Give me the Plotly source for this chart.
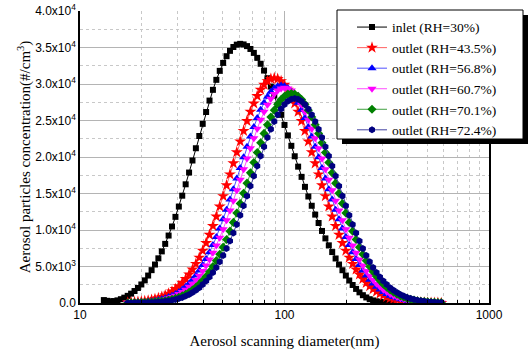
import plotly.graph_objects as go

# SMPS bin diameters (nm)
diameter_nm = [
    13.08, 13.59, 14.13, 14.68, 15.25, 15.85, 16.47, 17.11, 17.78, 18.48,
    19.20, 19.95, 20.73, 21.54, 22.39, 23.26, 24.17, 25.12, 26.10, 27.12,
    28.18, 29.29, 30.43, 31.62, 32.86, 34.15, 35.48, 36.87, 38.31, 39.81,
    41.37, 42.99, 44.67, 46.42, 48.23, 50.12, 52.08, 54.12, 56.23, 58.43,
    60.72, 63.10, 65.56, 68.13, 70.80, 73.56, 76.44, 79.43, 82.54, 85.77,
    89.13, 92.61, 96.24, 100.0, 103.9, 108.0, 112.2, 116.6, 121.2, 125.9,
    130.8, 135.9, 141.3, 146.8, 152.5, 158.5, 164.7, 171.1, 177.8, 184.8,
    192.0, 199.5, 207.3, 215.4, 223.9, 232.6, 241.7, 251.2, 261.0, 271.2,
    281.8, 292.9, 304.3, 316.2, 328.6, 341.5, 354.8, 368.7, 383.1, 398.1,
    413.7, 429.9, 446.7, 464.2, 482.3, 501.2, 520.8, 541.2, 562.3, 584.3,
]

inlet_rh30 = [
    400, 300, 240, 260, 360, 520, 730, 980, 1280, 1640,
    2060, 2540, 3100, 3760, 4500, 5270, 6120, 7070, 8100, 9240,
    10480, 11800, 13210, 14700, 16260, 17870, 19520, 21200, 22880, 24540,
    26160, 27730, 29200, 30570, 31800, 32890, 33810, 34540, 35070, 35390,
    35500, 35420, 35190, 34800, 34260, 33580, 32770, 31840, 30790, 29650,
    28420, 27130, 25780, 24390, 22960, 21530, 20100, 18680, 17280, 15910,
    14590, 13320, 12110, 10960, 9870, 8850, 7900, 6980, 6100, 5270,
    4490, 3760, 3080, 2470, 1930, 1460, 1070, 760, 520, 350,
    230, 150, 100, 70, 50, 40,
]

outlet_rh435 = [
    70, 90, 120, 160, 200, 260, 330, 430, 540, 670,
    840, 1040, 1290, 1570, 1910, 2310, 2770, 3300, 3910, 4590,
    5360, 6220, 7170, 8210, 9340, 10560, 11850, 13220, 14640, 16120,
    17620, 19140, 20650, 22130, 23570, 24930, 26200, 27340, 28360, 29210,
    29900, 30400, 30700, 30800, 30700, 30400, 29900, 29210, 28360, 27340,
    26200, 24930, 23570, 22130, 20650, 19140, 17620, 16120, 14640, 13220,
    11850, 10560, 9340, 8210, 7170, 6220, 5360, 4590, 3910, 3300,
    2770, 2310, 1910, 1570, 1290, 1040, 840, 670, 540, 430,
    330, 260, 200, 160, 120, 90, 70, 50, 40, 30,
    20, 20, 10,
]

outlet_rh568 = [
    40, 50, 70, 90, 120, 150, 200, 250, 320, 410,
    520, 650, 810, 1010, 1250, 1520, 1850, 2240, 2680, 3190,
    3780, 4440, 5190, 6020, 6940, 7940, 9040, 10220, 11470, 12790,
    14170, 15590, 17050, 18510, 19980, 21410, 22800, 24120, 25340, 26460,
    27440, 28270, 28930, 29410, 29700, 29800, 29700, 29410, 28930, 28270,
    27440, 26460, 25340, 24120, 22800, 21410, 19980, 18510, 17050, 15590,
    14170, 12790, 11470, 10220, 9040, 7940, 6940, 6020, 5190, 4440,
    3780, 3190, 2680, 2240, 1850, 1520, 1250, 1010, 810, 650,
    520, 410, 320, 250, 200, 150, 120, 90, 70, 50,
    40, 30, 20,
]

outlet_rh607 = [
    30, 40, 50, 60, 90, 120, 150, 190, 250, 320,
    410, 520, 650, 810, 1000, 1230, 1510, 1830, 2210, 2650,
    3160, 3740, 4400, 5140, 5960, 6870, 7860, 8950, 10110, 11350,
    12660, 14020, 15440, 16880, 18330, 19780, 21200, 22570, 23880, 25090,
    26190, 27160, 27980, 28640, 29110, 29400, 29500, 29400, 29110, 28640,
    27980, 27160, 26190, 25090, 23880, 22570, 21200, 19780, 18330, 16880,
    15440, 14020, 12660, 11350, 10110, 8950, 7860, 6870, 5960, 5140,
    4400, 3740, 3160, 2650, 2210, 1830, 1510, 1230, 1000, 810,
    650, 520, 410, 320, 250, 190, 150, 120, 90, 60,
    50, 40, 30,
]

outlet_rh701 = [
    10, 20, 30, 40, 50, 60, 80, 110, 150, 190,
    240, 310, 400, 500, 630, 780, 970, 1200, 1470, 1780,
    2150, 2580, 3070, 3640, 4280, 5000, 5800, 6680, 7650, 8700,
    9840, 11040, 12320, 13640, 15020, 16420, 17830, 19240, 20620, 21960,
    23230, 24410, 25480, 26420, 27220, 27860, 28320, 28610, 28700, 28610,
    28320, 27860, 27220, 26420, 25480, 24410, 23230, 21960, 20620, 19240,
    17830, 16420, 15020, 13640, 12320, 11040, 9840, 8700, 7650, 6680,
    5800, 5000, 4280, 3640, 3070, 2580, 2150, 1780, 1470, 1200,
    970, 780, 630, 500, 400, 310, 240, 190, 150, 110,
    80, 60, 50,
]

outlet_rh724 = [
    10, 15, 20, 25, 35, 45, 60, 80, 110, 140,
    180, 240, 300, 390, 490, 610, 760, 950, 1170, 1430,
    1740, 2100, 2520, 3000, 3550, 4170, 4870, 5660, 6520, 7460,
    8490, 9600, 10770, 12010, 13310, 14650, 16020, 17400, 18770, 20120,
    21420, 22660, 23810, 24860, 25780, 26560, 27180, 27630, 27910, 28000,
    27910, 27630, 27180, 26560, 25780, 24860, 23810, 22660, 21420, 20120,
    18770, 17400, 16020, 14650, 13310, 12010, 10770, 9600, 8490, 7460,
    6520, 5660, 4870, 4170, 3550, 3000, 2520, 2100, 1740, 1430,
    1170, 950, 760, 610, 490, 390, 300, 240, 180, 140,
    110, 80, 60,
]

outlet_diameter = diameter_nm[7:]

y_tickvals = [0, 5000, 10000, 15000, 20000, 25000, 30000, 35000, 40000]
y_ticktext = ["0.0", "5.0x10<sup>3</sup>", "1.0x10<sup>4</sup>", "1.5x10<sup>4</sup>",
              "2.0x10<sup>4</sup>", "2.5x10<sup>4</sup>", "3.0x10<sup>4</sup>",
              "3.5x10<sup>4</sup>", "4.0x10<sup>4</sup>"]
y_minor = [2500, 7500, 12500, 17500, 22500, 27500, 32500, 37500]
x_tickvals = [10, 100, 1000]
x_ticktext = ["10", "100", "1000"]
x_minor = [20, 30, 40, 50, 60, 70, 80, 90, 200, 300, 400, 500, 600, 700, 800, 900]

series = [
    ("inlet (RH=30%)", diameter_nm[:len(inlet_rh30)], inlet_rh30, "#000000", "#000000", "square", 6),
    ("outlet (RH=43.5%)", outlet_diameter, outlet_rh435, "#FF0000", "#FF6060", "star", 9),
    ("outlet (RH=56.8%)", outlet_diameter, outlet_rh568, "#0000FF", "#5050FF", "triangle-up", 8),
    ("outlet (RH=60.7%)", outlet_diameter, outlet_rh607, "#FF00FF", "#FF50FF", "triangle-down", 8),
    ("outlet (RH=70.1%)", outlet_diameter, outlet_rh701, "#008000", "#40A040", "diamond", 7),
    ("outlet (RH=72.4%)", outlet_diameter, outlet_rh724, "#000080", "#4040A0", "hexagon", 7),
]

fig = go.Figure()
for name, xs, ys, mcol, lcol, sym, sz in series:
    fig.add_trace(go.Scatter(
        x=xs, y=ys, name=name, mode="lines+markers",
        line=dict(color=lcol, width=1),
        marker=dict(symbol=sym, size=sz, color=mcol, line=dict(width=0)),
    ))

serif = "Liberation Serif, Times New Roman, serif"
sans = "Liberation Sans, Arial, sans-serif"

# plot area in pixels: x 80..489, y 11..303
PL, PR, PT, PB = 80, 489, 11, 303
def px(x):
    return (x - PL) / (PR - PL)
def py(y):
    return (PB - y) / (PB - PT)

fig.update_layout(
    width=529, height=352,
    margin=dict(l=PL, r=529 - PR, t=PT, b=352 - PB, autoexpand=False),
    paper_bgcolor="white", plot_bgcolor="white",
    showlegend=True,
    legend=dict(
        x=px(352), y=py(11.8), xanchor="left", yanchor="top",
        bgcolor="rgba(0,0,0,0)", borderwidth=0,
        font=dict(family=serif, size=13.5, color="black"),
        tracegroupgap=0,
    ),
    xaxis=dict(
        type="log", range=[1, 3],
        tickvals=x_tickvals, ticktext=x_ticktext,
        tickfont=dict(family=sans, size=12, color="black"),
        showgrid=True, gridcolor="#b4b4b4", gridwidth=1,
        showline=True, linecolor="black", linewidth=1.5,
        ticks="", zeroline=False,
        minor=dict(tickvals=x_minor, showgrid=True, gridcolor="#c8c8c8",
                   griddash="dot", gridwidth=1, ticks="inside", ticklen=3,
                   tickcolor="black"),
        title=dict(text="Aerosol scanning diameter(nm)",
                   font=dict(family=serif, size=15, color="black"), standoff=14),
    ),
    yaxis=dict(
        range=[0, 40000],
        tickvals=y_tickvals, ticktext=y_ticktext,
        tickfont=dict(family=sans, size=12, color="black"),
        showgrid=True, gridcolor="#b4b4b4", gridwidth=1,
        showline=True, linecolor="black", linewidth=1.5, mirror=True,
        ticks="", zeroline=False,
        minor=dict(tickvals=y_minor, showgrid=True, gridcolor="#c8c8c8",
                   griddash="dot", gridwidth=1),
        title=dict(text="Aerosol particles concentration(#/cm<sup>3</sup>)",
                   font=dict(family=serif, size=15, color="black"), standoff=1),
    ),
    shapes=[
        dict(type="rect", xref="paper", yref="paper",
             x0=px(342), x1=px(528), y0=py(144), y1=py(15),
             fillcolor="black", line=dict(width=0), layer="above"),
        dict(type="rect", xref="paper", yref="paper",
             x0=px(337), x1=px(523), y0=py(139), y1=py(10),
             fillcolor="white", line=dict(color="black", width=1), layer="above"),
    ],
)

fig.write_html("out.html", config={"displayModeBar": False},
               post_script="document.body.style.margin='0';")
